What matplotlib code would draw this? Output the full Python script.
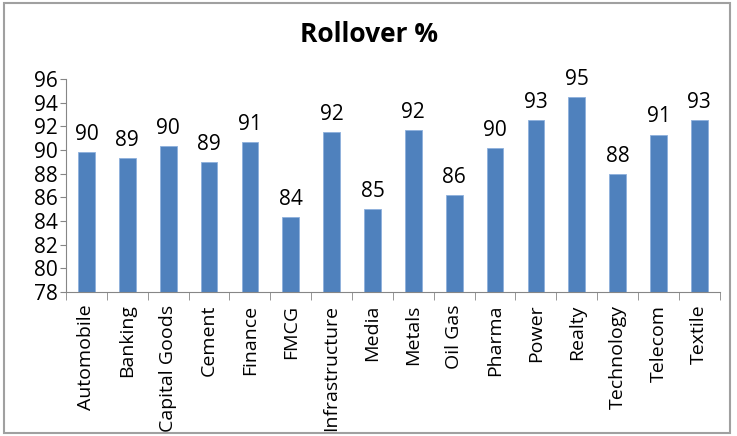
import numpy as np
import matplotlib.pyplot as plt
from matplotlib.patches import Rectangle

plt.rcParams['font.family'] = ['Open Sans', 'DejaVu Sans']

# sectors and rollover values
sectors = ["Automobile", "Banking", "Capital Goods", "Cement", "Finance", "FMCG",
           "Infrastructure", "Media", "Metals", "Oil Gas", "Pharma", "Power",
           "Realty", "Technology", "Telecom", "Textile"]
rollover = [89.8, 89.3, 90.3, 89.0, 90.7, 84.3, 91.5, 85.0, 91.7, 86.2,
            90.2, 92.5, 94.5, 88.0, 91.3, 92.5]
yticks = np.arange(78, 97, 2)

fig = plt.figure(figsize=(7.37, 4.36), dpi=100)
ax = fig.add_axes([0.0896, 0.330, 0.887, 0.489])

x = np.arange(len(sectors))
bars = ax.bar(x, rollover, width=0.41, color="#4f81bd", edgecolor="#8eb0dc", linewidth=0.6, zorder=2)

# data labels, rounded half up like excel
for xi, v in zip(x, rollover):
    ax.text(xi, v + 0.6, "{:d}".format(int(np.floor(v + 0.5))), ha="center", va="bottom", fontsize=15)

ax.set_ylim(78, 96)
ax.set_xlim(-0.5, len(sectors) - 0.5)
ax.set_yticks(yticks)
ax.tick_params(axis="y", labelsize=15, length=4, color="#868686", pad=2)

ax.set_xticks(x)
ax.set_xticklabels(sectors, rotation=90, fontsize=14)
ax.set_xticks(np.arange(-0.5, len(sectors)), minor=True)
ax.tick_params(axis="x", which="major", length=0, pad=9)
ax.tick_params(axis="x", which="minor", length=6, color="#868686")

for s in ["top", "right"]:
    ax.spines[s].set_visible(False)
for s in ["left", "bottom"]:
    ax.spines[s].set_color("#868686")

fig.text(0.5, 0.922, "Rollover %", ha="center", va="center", fontsize=19, fontweight="bold")

# outer chart border
fig.patches.append(Rectangle((0.006, 0.008), 0.985, 0.985, transform=fig.transFigure,
                             fill=False, edgecolor="#a0a0a0", linewidth=1.5))

fig.savefig("out.png", dpi=100)
